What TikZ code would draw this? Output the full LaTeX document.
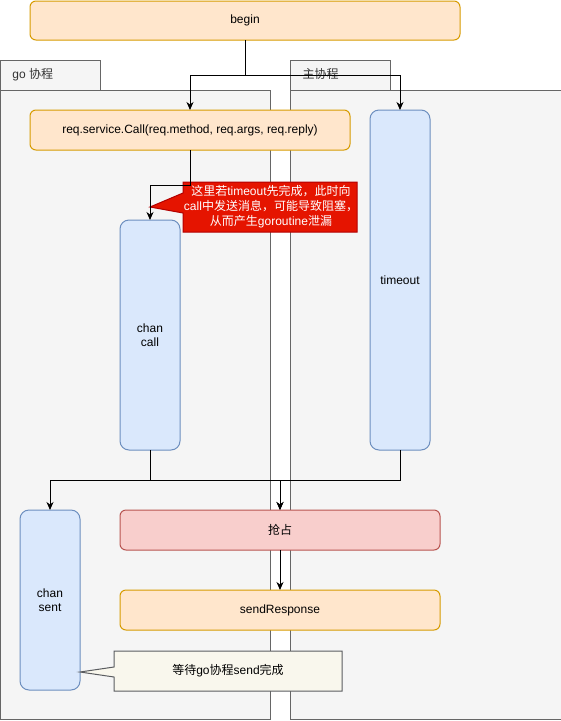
\documentclass[tikz,border=0pt]{standalone}
\usepackage{fontspec}
\setmainfont{Liberation Sans}
\newfontfamily\cjk{Noto Sans CJK SC}
\usetikzlibrary{arrows.meta}
\definecolor{orfill}{HTML}{FFE6CC}
\definecolor{orline}{HTML}{D79B00}
\definecolor{blfill}{HTML}{DAE8FC}
\definecolor{blline}{HTML}{6C8EBF}
\definecolor{rdfill}{HTML}{F8CECC}
\definecolor{rdline}{HTML}{B85450}
\definecolor{crfill}{HTML}{E51400}
\definecolor{crline}{HTML}{B20000}
\definecolor{ntfill}{HTML}{F9F7ED}
\definecolor{ntline}{HTML}{5A5C60}
\definecolor{cnfill}{HTML}{F5F5F5}
\definecolor{cnline}{HTML}{666666}
\definecolor{cntext}{HTML}{333333}
\begin{document}
\begin{tikzpicture}[x=1pt,y=-1pt,line width=1pt,
  box/.style={draw,rounded corners=6pt,inner sep=0pt,outer sep=0pt,align=center,
    font=\fontsize{12}{14}\selectfont},
  orbox/.style={box,fill=orfill,draw=orline},
  blbox/.style={box,fill=blfill,draw=blline,rounded corners=9pt},
  rdbox/.style={box,fill=rdfill,draw=rdline},
  cont/.style={fill=cnfill,draw=cnline},
  lbl/.style={inner sep=0pt,anchor=west,text=cntext,font=\fontsize{12}{14}\selectfont},
  arr/.style={-{Stealth[length=8pt,width=7pt,inset=2.5pt]},black},
  ln/.style={black}]
\useasboundingbox (0,0) rectangle (561,721);
% containers
\draw[cont] (0.5,60.5) rectangle (100.5,90.5);
\draw[cont] (0.5,90.5) rectangle (270.5,719.5);
\draw[cont] (290.5,60.5) rectangle (390.5,90.5);
\draw[cont] (290.5,90.5) rectangle (566,719.5);
\node[lbl] (golbl) at (12,75) {go {\cjk 协程}};
\node[lbl] (mainlbl) at (302,74) {\cjk 主协程};
% nodes
\node[orbox,minimum width=430pt,minimum height=39pt] (begin) at (245,20.5) {begin};
\node[orbox,minimum width=320pt,minimum height=40pt] (call) at (190,130) {req.service.Call(req.method, req.args, req.reply)};
\node[blbox,minimum width=60pt,minimum height=340pt] (timeout) at (400,280) {timeout};
\node[blbox,minimum width=60pt,minimum height=230pt] (chancall) at (150,335) {chan\\call};
\node[blbox,minimum width=60pt,minimum height=180pt] (chansent) at (50,600) {chan\\sent};
\node[rdbox,minimum width=320pt,minimum height=40pt] (grab) at (280,530) {\cjk 抢占};
\node[orbox,minimum width=320pt,minimum height=40pt] (send) at (280,610) {sendResponse};
% red callout
\draw[fill=crfill,draw=crline] (183,182) -- (357,182) -- (357,232) -- (183,232) -- (183,213) -- (150,207) -- (183,193) -- cycle;
\node[inner sep=0pt,align=center,text=white,font=\fontsize{12}{15}\selectfont] (warn) at (271,207)
  {{\cjk 这里若}timeout{\cjk 先完成，此时向}\\call{\cjk 中发送消息，可能导致阻塞，}\\{\cjk 从而产生}goroutine{\cjk 泄漏}};
% note callout
\draw[fill=ntfill,draw=ntline] (114,651) -- (342,651) -- (342,691) -- (114,691) -- (114,677) -- (80,672) -- (114,667) -- cycle;
\node[inner sep=0pt,font=\fontsize{12}{14}\selectfont] (wait) at (228,671) {{\cjk 等待}go{\cjk 协程}send{\cjk 完成}};
% connectors
\coordinate (j1) at (245,75);
\draw[ln] (begin.south) -- (j1);
\draw[arr] (j1) -| (call.north);
\draw[arr] (j1) -| (timeout.north);
\coordinate (j2) at (190,185);
\draw[arr] (call.south) -- (j2) -| (chancall.north);
\coordinate (j3) at (150,480);
\coordinate (j4) at (400,480);
\draw[arr] (chancall.south) -- (j3) -| (chansent.north);
\draw[arr] (j3) -| (grab.north);
\draw[arr] (timeout.south) -- (j4) -| (grab.north);
\draw[arr] (grab.south) -- (send.north);
\end{tikzpicture}
\end{document}
